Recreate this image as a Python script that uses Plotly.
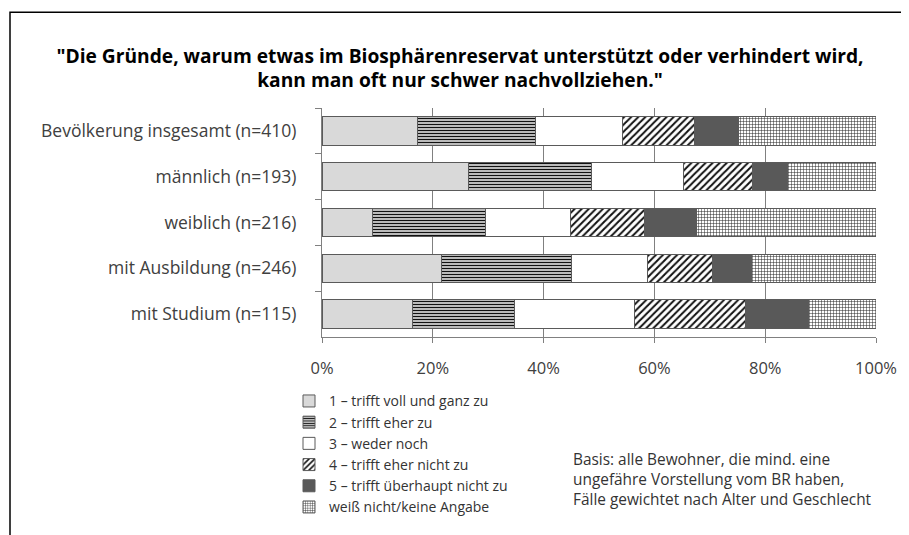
import plotly.graph_objects as go

categories = [
    "Bevölkerung insgesamt (n=410)",
    "männlich (n=193)",
    "weiblich (n=216)",
    "mit Ausbildung (n=246)",
    "mit Studium (n=115)",
]
series_names = [
    "1 – trifft voll und ganz zu",
    "2 – trifft eher zu",
    "3 – weder noch",
    "4 – trifft eher nicht zu",
    "5 – trifft überhaupt nicht zu",
    "weiß nicht/keine Angabe",
]
s1 = [17.3, 26.4, 9.2, 21.5, 16.4]
s2 = [21.2, 22.3, 20.4, 23.6, 18.4]
s3 = [15.8, 16.5, 15.2, 13.7, 21.6]
s4 = [13.0, 12.5, 13.5, 11.6, 20.0]
s5 = [7.8, 6.3, 9.3, 7.2, 11.4]
s6 = [24.9, 16.0, 32.4, 22.4, 12.2]
tick_vals = [0, 20, 40, 60, 80, 100]
tick_text = ["0%", "20%", "40%", "60%", "80%", "100%"]

FONT = "Open Sans"
values = [s1, s2, s3, s4, s5, s6]
styles = [
    dict(color="#d9d9d9"),
    dict(color="#d9d9d9", pattern=dict(shape="-", fgcolor="#111111", bgcolor="#dddddd",
                                       size=3, solidity=0.45, fillmode="replace")),
    dict(color="#ffffff"),
    dict(color="#ffffff", pattern=dict(shape="/", fgcolor="#111111", bgcolor="#ffffff",
                                       size=5, solidity=0.4, fillmode="replace")),
    dict(color="#595959"),
    dict(color="#ffffff", pattern=dict(shape="+", fgcolor="#222222", bgcolor="#ffffff",
                                       size=3, solidity=0.3, fillmode="replace")),
]

# page is rendered with an 8px body margin, so layout coordinates are page - 8
W, H = 901, 527
L, R, T, B = 314, 33, 100, 195
PW, PH = W - L - R, H - T - B


def px(xp):
    return (xp - 8 - L) / PW


def py(yp):
    return (H - B - (yp - 8)) / PH


fig = go.Figure()
for name, vals, st in zip(series_names, values, styles):
    marker = dict(color=st["color"], line=dict(color="#5a5a5a", width=1))
    if "pattern" in st:
        marker["pattern"] = st["pattern"]
    fig.add_trace(go.Bar(
        y=categories, x=vals, name=name, orientation="h", marker=marker,
    ))

fig.update_layout(
    barmode="stack",
    bargap=0.38,
    width=W, height=H,
    margin=dict(l=L, r=R, t=T, b=B),
    paper_bgcolor="white", plot_bgcolor="white",
    font=dict(family=FONT, size=15, color="#404040"),
    title=dict(
        text="\"Die Gründe, warum etwas im Biosphärenreservat unterstützt oder verhindert wird,<br>kann man oft nur schwer nachvollziehen.\"",
        x=(460 - 8) / W, xanchor="center", y=1 - (62.5 - 8) / H, yanchor="middle",
        font=dict(family=FONT, size=19.2, color="#000000", weight="bold"),
    ),
    xaxis=dict(
        range=[0, 100], tickvals=tick_vals, ticktext=tick_text,
        showgrid=True, gridcolor="#808080", gridwidth=1,
        showline=True, linecolor="#808080", linewidth=1,
        ticks="outside", ticklen=5, tickcolor="#808080",
        tickfont=dict(size=16.5, color="#404040"), ticklabelstandoff=11,
        zeroline=False, fixedrange=True,
    ),
    yaxis=dict(
        autorange="reversed", showline=True, linecolor="#808080", linewidth=1,
        ticks="outside", ticklen=6, tickcolor="#808080", tickson="boundaries",
        tickfont=dict(size=17.5, color="#404040"), ticklabelstandoff=21,
        showgrid=False,
    ),
    legend=dict(
        x=px(289), xanchor="left", y=py(389), yanchor="top",
        traceorder="normal", orientation="v",
        font=dict(family=FONT, size=14, color="#333333"),
        itemwidth=30, tracegroupgap=0, bgcolor="rgba(0,0,0,0)",
    ),
    showlegend=True,
)

fig.add_annotation(
    text="Basis: alle Bewohner, die mind. eine<br>ungefähre Vorstellung vom BR haben,<br>Fälle gewichtet nach Alter und Geschlecht",
    xref="paper", yref="paper", x=px(571), y=py(451),
    xanchor="left", yanchor="top", align="left", showarrow=False,
    font=dict(family=FONT, size=15.4, color="#333333"),
)

# frame (top and left edges of the original chart border)
fig.add_shape(
    type="rect", xref="paper", yref="paper",
    x0=px(10), x1=1.3, y0=-1.3, y1=py(11),
    line=dict(color="#000000", width=1.5), fillcolor="rgba(0,0,0,0)", layer="below",
)

fig.write_html("out.html")
